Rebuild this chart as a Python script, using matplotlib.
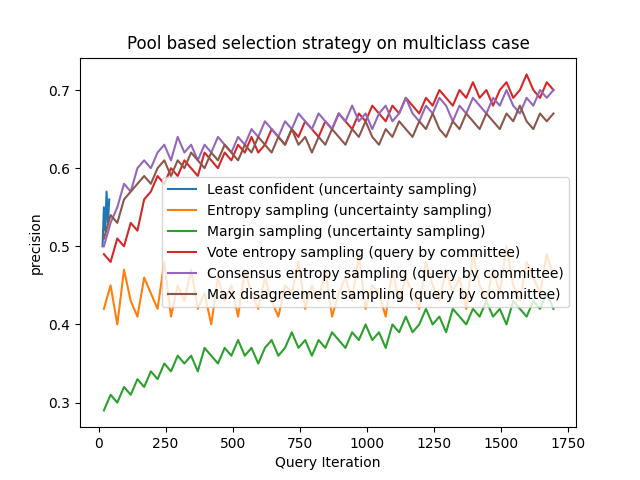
import numpy as np
import matplotlib
matplotlib.use('Agg')
import matplotlib.pyplot as plt

least_conf = [0.50, 0.55, 0.52, 0.57, 0.53, 0.56]
entropy = [0.42,0.45,0.40,0.47,0.43,0.41,0.46,0.44,0.42,0.48,0.41,0.45,0.43,0.47,0.42,0.44,0.40,0.46,0.43,0.45,
           0.41,0.47,0.44,0.42,0.46,0.43,0.41,0.45,0.44,0.48,0.42,0.45,0.43,0.47,0.41,0.44,0.46,0.43,0.49,0.42,
           0.45,0.44,0.41,0.47,0.43,0.46,0.44,0.42,0.48,0.45,0.43,0.47,0.44,0.46,0.42,0.49,0.45,0.43,0.47,0.44,
           0.50,0.45,0.43,0.48,0.46,0.44,0.49,0.46]
margin = [0.29,0.31,0.30,0.32,0.31,0.33,0.32,0.34,0.33,0.35,0.34,0.36,0.35,0.36,0.34,0.37,0.36,0.35,0.37,0.36,
          0.38,0.36,0.37,0.35,0.37,0.38,0.36,0.37,0.39,0.37,0.38,0.36,0.38,0.37,0.39,0.38,0.37,0.39,0.38,0.40,
          0.38,0.39,0.37,0.40,0.39,0.41,0.39,0.40,0.42,0.40,0.41,0.39,0.42,0.41,0.40,0.42,0.41,0.43,0.41,0.42,
          0.40,0.43,0.42,0.41,0.43,0.42,0.44,0.42]
vote = [0.49,0.48,0.51,0.50,0.53,0.52,0.56,0.57,0.59,0.58,0.60,0.59,0.61,0.60,0.59,0.62,0.61,0.60,0.62,0.61,
        0.63,0.62,0.64,0.62,0.63,0.65,0.64,0.63,0.65,0.64,0.66,0.65,0.64,0.66,0.65,0.67,0.66,0.65,0.67,0.66,
        0.68,0.67,0.66,0.68,0.67,0.69,0.68,0.67,0.69,0.68,0.70,0.69,0.68,0.70,0.69,0.71,0.69,0.70,0.68,0.70,
        0.71,0.69,0.70,0.72,0.70,0.69,0.71,0.70]
consensus = [0.50,0.53,0.55,0.58,0.57,0.60,0.61,0.60,0.62,0.63,0.61,0.64,0.62,0.63,0.61,0.63,0.62,0.64,0.63,0.62,
             0.64,0.63,0.65,0.64,0.66,0.65,0.64,0.66,0.65,0.67,0.66,0.65,0.67,0.66,0.65,0.67,0.66,0.68,0.66,0.67,
             0.65,0.67,0.68,0.66,0.67,0.69,0.67,0.66,0.68,0.67,0.69,0.68,0.66,0.68,0.67,0.69,0.68,0.67,0.69,0.68,
             0.70,0.68,0.67,0.69,0.68,0.70,0.69,0.70]
max_dis = [0.51,0.54,0.53,0.56,0.57,0.58,0.59,0.58,0.60,0.61,0.59,0.61,0.60,0.62,0.61,0.60,0.62,0.61,0.63,0.62,
           0.61,0.63,0.62,0.64,0.63,0.62,0.64,0.63,0.65,0.63,0.64,0.62,0.64,0.63,0.65,0.64,0.63,0.65,0.64,0.66,
           0.64,0.63,0.65,0.64,0.66,0.65,0.64,0.66,0.65,0.67,0.65,0.64,0.66,0.65,0.67,0.66,0.65,0.67,0.66,0.65,
           0.67,0.66,0.68,0.66,0.65,0.67,0.66,0.67]

series = [
    (least_conf, 15, 5, 'Least confident (uncertainty sampling)'),
    (entropy, 20, 25, 'Entropy sampling (uncertainty sampling)'),
    (margin, 20, 25, 'Margin sampling (uncertainty sampling)'),
    (vote, 20, 25, 'Vote entropy sampling (query by committee)'),
    (consensus, 20, 25, 'Consensus entropy sampling (query by committee)'),
    (max_dis, 20, 25, 'Max disagreement sampling (query by committee)'),
]

fig, ax = plt.subplots(figsize=(6.4, 4.8), dpi=100)
for vals, start, step, label in series:
    x = start + step * np.arange(len(vals))
    ax.plot(x, vals, label=label)

ax.set_title('Pool based selection strategy on multiclass case')
ax.set_xlabel('Query Iteration')
ax.set_ylabel('precision')
ax.legend(loc='center right')
fig.savefig('out.png')
